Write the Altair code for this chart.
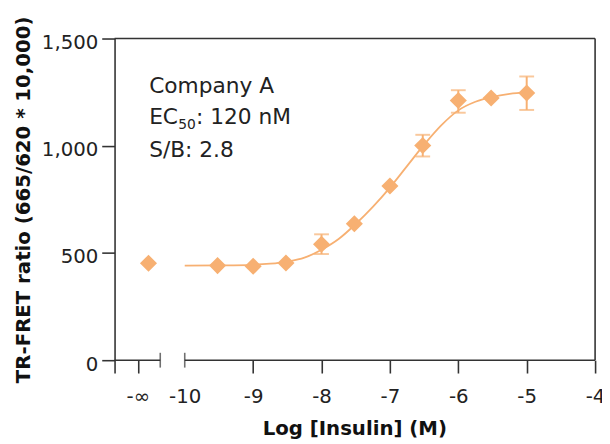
import altair as alt
import pandas as pd

# ---------------- data ----------------
# log10 concentration (the first point is the zero-insulin control, drawn at "-inf")
x_log = [-10.53, -9.52, -9.0, -8.52, -8.0, -7.52, -7.0, -6.52, -6.0, -5.52, -5.0]
y_mean = [452, 441, 438, 453, 541, 636, 812, 1001, 1211, 1223, 1246]

err_x = [-8.0, -6.52, -6.0, -5.0]
err_lo = [495, 950, 1154, 1167]
err_hi = [587, 1051, 1259, 1323]

# fitted curve
fit_x = [-10.0, -9.5, -9.0, -8.75, -8.5, -8.25, -8.0, -7.75, -7.5, -7.25,
         -7.0, -6.75, -6.5, -6.25, -6.0, -5.75, -5.5, -5.25, -5.0]
fit_y = [441, 442, 445, 450, 460, 478, 515, 565, 635, 715,
         805, 905, 1005, 1095, 1165, 1205, 1228, 1242, 1250]

# axis layout (broken x axis: "-inf" segment, then -10 .. -4)
x_min, x_max = -11.026, -4.0
break_left, break_right = -10.358, -10.0
x_tick_values = [-11.026, -10.686, -10.0, -9.0, -8.0, -7.0, -6.0, -5.0, -4.0]
x_tick_labels = ["", "-\u221e", "-10", "-9", "-8", "-7", "-6", "-5", "-4"]
y_tick_values = [0, 500, 1000, 1500]
y_tick_labels = ["0", "500", "1,000", "1,500"]

anno_x = -10.52
anno_lines = ["Company A", "S/B: 2.8"]
anno_y = [1246, 947]
ec_y = 1101

ORANGE = "#F7B072"
AXIS = "#333333"
TEXT = "#222222"
FONT = "DejaVu Sans"

pts = pd.DataFrame({"x": x_log, "y": y_mean})
err = pd.DataFrame({"x": err_x, "lo": err_lo, "hi": err_hi})
fit = pd.DataFrame({"x": fit_x, "y": fit_y})
frame = pd.DataFrame({
    "x": [x_min, break_right, x_min, x_max],
    "x2": [break_left, x_max, x_max, x_max],
    "y": [0, 0, 1500, 0],
    "y2": [0, 0, 1500, 1500],
})
caps = pd.DataFrame({"x": [break_left, break_right], "y": [0, 0]})
anno = pd.DataFrame({"x": [anno_x] * len(anno_lines), "y": anno_y, "t": anno_lines})
ec = pd.DataFrame({"x": [anno_x], "y": [ec_y]})

xs = alt.Scale(domain=[x_min, x_max], nice=False, zero=False)
ys = alt.Scale(domain=[0, 1500], nice=False, zero=False)


def lookup_expr(values, labels):
    return "{}[indexof({}, datum.value)]".format(
        "[" + ",".join("'" + s + "'" for s in labels) + "]",
        "[" + ",".join(repr(v) for v in values) + "]",
    )


x_axis = alt.Axis(
    values=x_tick_values,
    labelExpr=lookup_expr(x_tick_values, x_tick_labels),
    domain=False,
    grid=False,
    tickSize=13,
    tickWidth=1.6,
    tickColor=AXIS,
    tickOpacity={"condition": {"test": "datum.value == -10", "value": 0}, "value": 1},
    labelFont=FONT,
    labelFontSize=20,
    labelColor=TEXT,
    labelPadding=14,
    labelFlush=False,
    labelOverlap=False,
    title="Log [Insulin] (M)",
    titleFont=FONT,
    titleFontSize=20,
    titleFontWeight="bold",
    titleColor="#111111",
    titleX=243,
    titleY=75,
    titleBaseline="alphabetic",
    titleAlign="center",
)
y_axis = alt.Axis(
    values=y_tick_values,
    labelExpr=lookup_expr(y_tick_values, y_tick_labels),
    grid=False,
    domainColor=AXIS,
    domainWidth=1.6,
    tickSize=13,
    tickWidth=1.6,
    tickColor=AXIS,
    labelFont=FONT,
    labelFontSize=20,
    labelColor=TEXT,
    labelPadding=4,
    labelOffset=4,
    labelFlush=False,
    labelOverlap=False,
    title="TR-FRET ratio (665/620 * 10,000)",
    titleFont=FONT,
    titleFontSize=20,
    titleFontWeight="bold",
    titleColor="#111111",
    titleAngle=270,
    titleX=-86,
    titleY=163,
    titleBaseline="alphabetic",
    titleAlign="center",
)


def X(field):
    return alt.X(field, type="quantitative", scale=xs, axis=x_axis)


def Y(field):
    return alt.Y(field, type="quantitative", scale=ys, axis=y_axis)


frame_layer = alt.Chart(frame).mark_rule(color=AXIS, strokeWidth=1.6).encode(
    x=X("x"), x2="x2:Q", y=Y("y"), y2="y2:Q",
)
cap_layer = alt.Chart(caps).mark_tick(color=AXIS, orient="vertical", size=15, thickness=1.6).encode(
    x=X("x"), y=Y("y"),
)
fit_layer = alt.Chart(fit).mark_line(color=ORANGE, strokeWidth=1.8, interpolate="monotone").encode(
    x=X("x"), y=Y("y"),
)
err_rule = alt.Chart(err).mark_rule(color=ORANGE, strokeWidth=2).encode(
    x=X("x"), y=Y("lo"), y2="hi:Q",
)
err_lo_cap = alt.Chart(err).mark_tick(color=ORANGE, orient="horizontal", size=15, thickness=2).encode(
    x=X("x"), y=Y("lo"),
)
err_hi_cap = alt.Chart(err).mark_tick(color=ORANGE, orient="horizontal", size=15, thickness=2).encode(
    x=X("x"), y=Y("hi"),
)
point_layer = alt.Chart(pts).mark_point(
    shape="diamond", filled=True, size=300, color=ORANGE, opacity=1
).encode(x=X("x"), y=Y("y"))
text_layer = alt.Chart(anno).mark_text(
    align="left", baseline="alphabetic", font=FONT, fontSize=22, color=TEXT
).encode(x=X("x"), y=Y("y"), text="t:N")
ec_main = alt.Chart(ec).mark_text(
    align="left", baseline="alphabetic", font=FONT, fontSize=22, color=TEXT, text="EC"
).encode(x=X("x"), y=Y("y"))
ec_sub = alt.Chart(ec).mark_text(
    align="left", baseline="alphabetic", font=FONT, fontSize=14, color=TEXT,
    text="50", dx=29.5, dy=5
).encode(x=X("x"), y=Y("y"))
ec_rest = alt.Chart(ec).mark_text(
    align="left", baseline="alphabetic", font=FONT, fontSize=22, color=TEXT,
    text=": 120 nM", dx=47.5
).encode(x=X("x"), y=Y("y"))

chart = alt.layer(
    frame_layer, cap_layer, fit_layer, err_rule, err_lo_cap, err_hi_cap,
    point_layer, text_layer, ec_main, ec_sub, ec_rest,
).properties(
    width=487,
    height=326,
    autosize=alt.AutoSizeParams(type="none"),
    padding={"left": 108, "top": 28, "right": 7, "bottom": 82},
    background="white",
).configure_view(stroke=None)

chart.save("out.html", embed_options={"renderer": "svg", "actions": False})
